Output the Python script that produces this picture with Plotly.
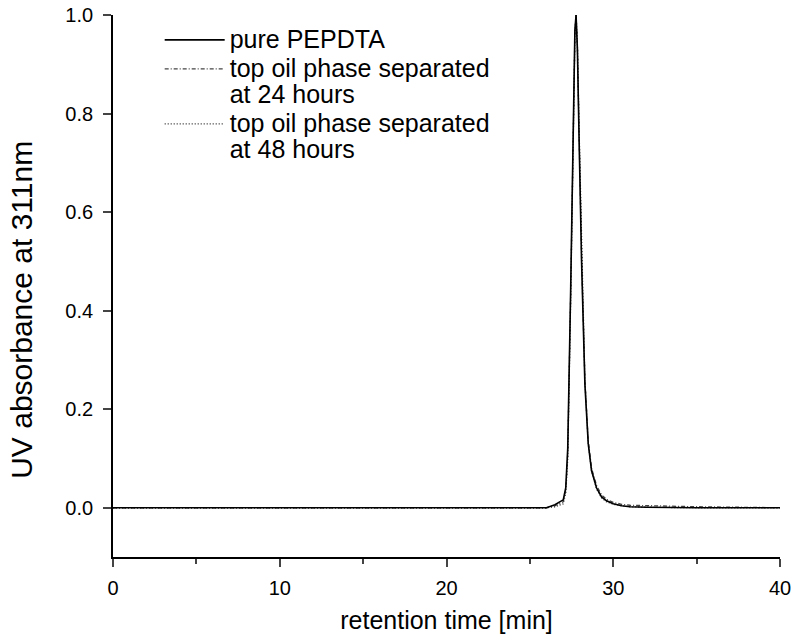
import plotly.graph_objects as go

# retention time [min]
t_pure = [0, 5, 10, 15, 20, 25, 26.0, 26.5, 27.0, 27.15, 27.27, 27.45, 27.6, 27.7, 27.77, 27.85, 27.95, 28.1, 28.3, 28.5, 28.7, 29.0, 29.3, 29.6, 30.0, 30.5, 31.0, 32.0, 35.0, 40.0]
y_pure = [0, 0, 0, 0, 0, 0, 0.0, 0.006, 0.016, 0.04, 0.12, 0.45, 0.82, 0.97, 1.0, 0.93, 0.75, 0.5, 0.25, 0.13, 0.075, 0.04, 0.022, 0.014, 0.008, 0.004, 0.002, 0.001, 0.0, 0.0]

t_24h = [0, 5, 10, 15, 20, 25, 26.0, 26.5, 27.0, 27.15, 27.27, 27.45, 27.6, 27.7, 27.77, 27.85, 27.95, 28.1, 28.3, 28.5, 28.7, 29.0, 29.3, 29.6, 30.0, 30.5, 31.0, 32.0, 35.0, 40.0]
y_24h = [0, 0, 0, 0, 0, 0, 0.0, 0.004, 0.012, 0.035, 0.11, 0.44, 0.81, 0.96, 1.0, 0.94, 0.76, 0.51, 0.26, 0.135, 0.08, 0.045, 0.026, 0.017, 0.011, 0.007, 0.005, 0.004, 0.002, 0.0]

t_48h = [0, 5, 10, 15, 20, 25, 26.0, 26.5, 27.0, 27.15, 27.27, 27.45, 27.6, 27.7, 27.77, 27.85, 27.95, 28.1, 28.3, 28.5, 28.7, 29.0, 29.3, 29.6, 30.0, 30.5, 31.0, 32.0, 35.0, 40.0]
y_48h = [0, 0, 0, 0, 0, 0, 0.0, 0.002, 0.008, 0.03, 0.1, 0.43, 0.8, 0.96, 1.0, 0.94, 0.77, 0.52, 0.26, 0.13, 0.075, 0.038, 0.02, 0.012, 0.007, 0.004, 0.002, 0.001, 0.0, 0.0]

names = ["pure PEPDTA", "top oil phase separated<br>at 24 hours", "top oil phase separated<br>at 48 hours"]

FONT = "Liberation Sans, Arial, sans-serif"


def big(label):
    return "<br>".join('<span style="font-size:25px">%s</span>' % part for part in label.split("<br>"))


fig = go.Figure()
fig.add_trace(go.Scatter(x=t_48h, y=y_48h, mode="lines", name=big(names[2]),
                         line=dict(color="#222222", width=1.3, dash="1px,2px")))
fig.add_trace(go.Scatter(x=t_24h, y=y_24h, mode="lines", name=big(names[1]),
                         line=dict(color="#444444", width=1.3, dash="4px,2px,1px,2px")))
fig.add_trace(go.Scatter(x=t_pure, y=y_pure, mode="lines", name=big(names[0]),
                         line=dict(color="black", width=1.6)))

fig.update_layout(
    width=794, height=637,
    margin=dict(l=113, r=14, t=15, b=80),
    paper_bgcolor="white", plot_bgcolor="white",
    font=dict(family=FONT, color="black"),
    showlegend=True,
    legend=dict(x=0.07, y=0.99, xanchor="left", yanchor="top", valign="top",
                traceorder="reversed", font=dict(size=20, family=FONT),
                itemwidth=60, bgcolor="rgba(0,0,0,0)", tracegroupgap=0),
    xaxis=dict(range=[0, 40], tickvals=[0, 10, 20, 30, 40], ticks="outside",
               ticklen=8, tickwidth=1.5, showline=True, linewidth=1.8,
               linecolor="black", showgrid=False, zeroline=False, automargin=False,
               tickfont=dict(size=20), ticklabelstandoff=4,
               minor=dict(tickvals=[5, 15, 25, 35], ticks="outside", ticklen=5, tickwidth=1.5),
               title=dict(text="retention time [min]", font=dict(size=25), standoff=14)),
    yaxis=dict(range=[-0.1, 1.0], tickvals=[0, 0.2, 0.4, 0.6, 0.8, 1.0],
               tickformat=".1f", ticks="outside", ticklen=8, tickwidth=1.5,
               showline=True, linewidth=1.8, linecolor="black", showgrid=False,
               zeroline=False, automargin=False, tickfont=dict(size=20), ticklabelstandoff=6),
    annotations=[dict(text="UV absorbance at 311nm", textangle=-90, xref="paper", yref="paper",
                      x=-0.1365, y=0.456, xanchor="center", yanchor="middle",
                      showarrow=False, font=dict(size=30, family=FONT))],
)

fig.write_html("out.html")
